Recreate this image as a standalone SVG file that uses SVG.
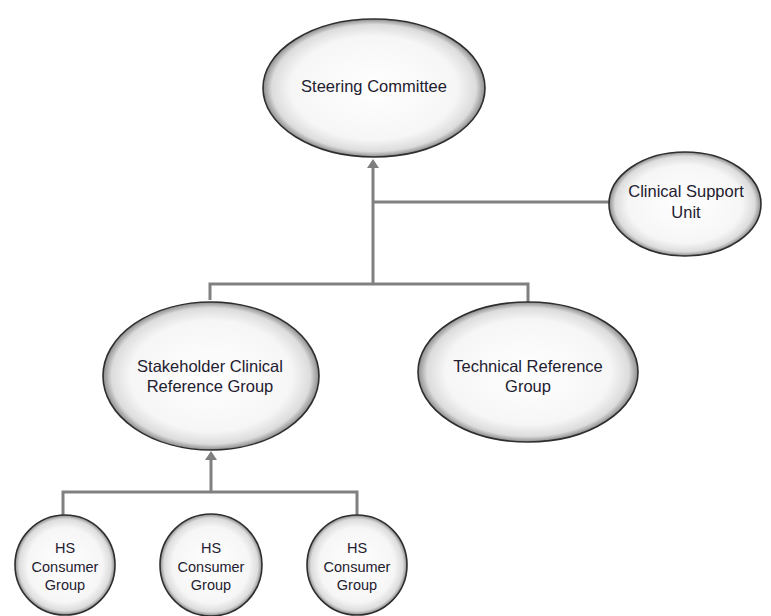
<svg xmlns="http://www.w3.org/2000/svg" width="771" height="616" viewBox="0 0 771 616">
<defs>
<radialGradient id="g" cx="50%" cy="50%" r="50%">
<stop offset="0" stop-color="#ffffff"/>
<stop offset="0.75" stop-color="#f6f6f6"/>
<stop offset="0.92" stop-color="#dcdcdc"/>
<stop offset="1" stop-color="#8c8c8c"/>
</radialGradient>
</defs>
<style>
.n{fill:url(#g);stroke:#2e2e2e;stroke-width:1.6}
.t{font-family:"Liberation Sans",Arial,sans-serif;font-size:16.5px;fill:#1f2030;text-anchor:middle}
.s{font-size:14.5px}
.c{fill:none;stroke:#808080;stroke-width:3}
.a{fill:#7f7f7f}
</style>
<rect width="771" height="616" fill="#ffffff"/>
<g id="connectors">
<path class="c" d="M373,284 V162"/>
<path class="c" d="M373,202 H610"/>
<path class="c" d="M210,300 V284 H528 V302"/>
<path class="c" d="M211,492 V454"/>
<path class="c" d="M63,515 V492 H357 V515"/>
<path class="a" d="M367,168 L373,159 L379,168 Z"/>
<path class="a" d="M205,460 L211,451 L217,460 Z"/>
</g>
<g id="steering">
<ellipse class="n" cx="374" cy="88" rx="111" ry="69"/>
<text class="t" x="374" y="92">Steering Committee</text>
</g>
<g id="clinical-support">
<ellipse class="n" cx="685" cy="204" rx="76" ry="52"/>
<text class="t" x="686" y="197">Clinical Support</text>
<text class="t" x="686" y="218">Unit</text>
</g>
<g id="stakeholder">
<ellipse class="n" cx="211" cy="376" rx="108" ry="74"/>
<text class="t" x="210" y="372">Stakeholder Clinical</text>
<text class="t" x="210" y="392">Reference Group</text>
</g>
<g id="technical">
<ellipse class="n" cx="528" cy="372" rx="110" ry="70"/>
<text class="t" x="528" y="372">Technical Reference</text>
<text class="t" x="528" y="392">Group</text>
</g>
<g id="hs1">
<circle class="n" cx="65" cy="565" r="50"/>
<text class="t s" x="65" y="553">HS</text>
<text class="t s" x="65" y="572">Consumer</text>
<text class="t s" x="65" y="590">Group</text>
</g>
<g id="hs2">
<circle class="n" cx="211" cy="565" r="51"/>
<text class="t s" x="211" y="553">HS</text>
<text class="t s" x="211" y="572">Consumer</text>
<text class="t s" x="211" y="590">Group</text>
</g>
<g id="hs3">
<circle class="n" cx="357" cy="565" r="50"/>
<text class="t s" x="357" y="553">HS</text>
<text class="t s" x="357" y="572">Consumer</text>
<text class="t s" x="357" y="590">Group</text>
</g>
</svg>
